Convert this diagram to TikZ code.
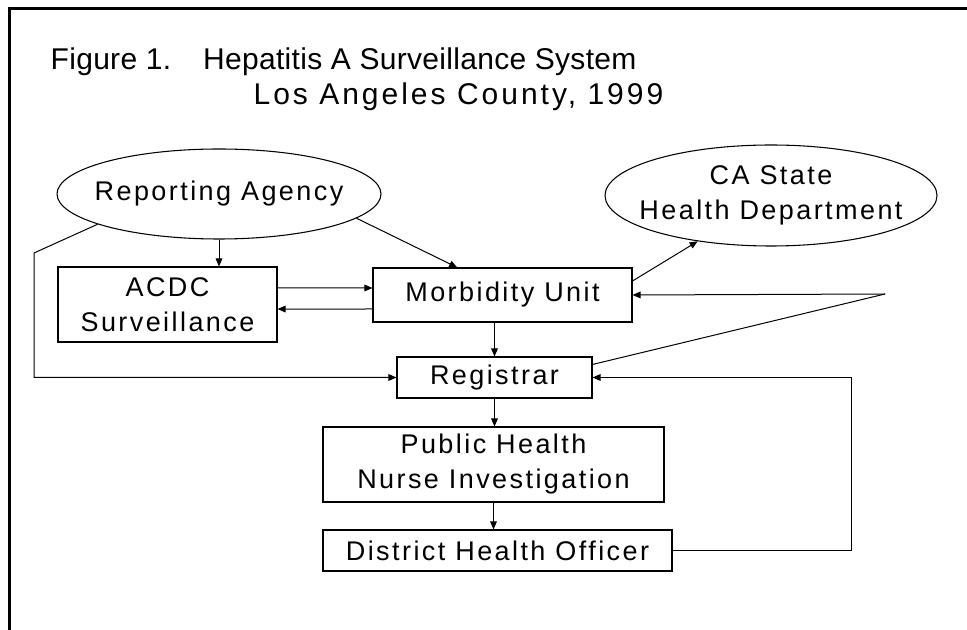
\documentclass[tikz,border=0pt]{standalone}
\usepackage{fontspec}
\setmainfont{Liberation Sans}[LetterSpace=9]
\newfontfamily\titlefam{Liberation Sans}[LetterSpace=1]
\newfontfamily\placefam{Liberation Sans}[LetterSpace=10]
\usetikzlibrary{shapes.geometric,arrows.meta}

\newcommand\boxfont{\fontsize{20.25}{26.25}\selectfont}
\newcommand\headfont{\titlefam\fontsize{22.5}{27}\selectfont}
\newcommand\placefont{\placefam\fontsize{22.5}{27}\selectfont}

\begin{document}
\begin{tikzpicture}[x=0.75pt,y=-0.75pt,
    box/.style={draw,rectangle,line width=0.8pt,inner sep=0pt,align=center,font=\boxfont},
    oval/.style={draw,ellipse,line width=0.8pt,inner sep=-20pt,align=center,font=\boxfont},
    link/.style={line width=0.75pt,-{Triangle[length=6pt,width=5pt]}}]

    \useasboundingbox (0,0) rectangle (967,630);

    % Drawing the frame
    \draw[line width=2.25pt] (9.5,630) -- (9.5,8.5) -- (967,8.5);

    % Title
    \node[anchor=west,font=\headfont] (title) at (46,62) {Figure 1.\hspace{24pt}Hepatitis A Surveillance System};
    \node[anchor=east,font=\placefont] (place) at (668,97) {Los Angeles County, 1999};

    % Agencies
    \node[oval,minimum width=243pt,minimum height=67.5pt] (rep) at (219,194) {Reporting Agency};
    \node[oval,minimum width=249pt,minimum height=75.75pt] (state) at (771,195.5) {CA State\\Health Department};

    % Units
    \node[box,minimum width=164.25pt,minimum height=56.25pt] (acdc) at (167.5,304.5) {ACDC\\Surveillance};
    \node[box,minimum width=194.25pt,minimum height=40.5pt] (morb) at (502.5,295) {Morbidity Unit};
    \node[box,minimum width=146.25pt,minimum height=30.75pt] (reg) at (494.5,377.5) {Registrar};
    \node[box,minimum width=255.75pt,minimum height=56.25pt] (nurse) at (493.5,464.5) {Public Health\\Nurse Investigation};
    \node[box,minimum width=261.75pt,minimum height=30.75pt] (dho) at (497.5,550.5) {District Health Officer};

    % Free ends of the connectors
    \coordinate (bend) at (34,253);
    \coordinate (ext) at (885,294);
    \coordinate (back) at (851,0);

    % Reports coming in
    \draw[link] (rep.south) -- (rep.south |- acdc.north);
    \draw[link] (rep.-10) -- ([xshift=-34pt]morb.north);
    \draw[link] (rep.194) -- (bend) |- (reg.west);

    % Between ACDC and Morbidity Unit
    \draw[link] ([yshift=12.4pt]acdc.east) -- ([yshift=5.25pt]morb.west);
    \draw[link] ([yshift=-10.5pt]morb.west) -- ([yshift=-3.4pt]acdc.east);

    % To the state and from outside
    \draw[link] ([yshift=10.5pt]morb.east) -- (state.212);
    \draw[link] (ext) -- (morb.east);
    \draw[line width=0.75pt] (ext) -- ([yshift=-6pt]reg.north east);

    % Down the chain
    \draw[link] (reg.north |- morb.south) -- (reg.north);
    \draw[link] (reg.south) -- (reg.south |- nurse.north);
    \draw[link] (nurse.south) -- (nurse.south |- dho.north);
    \draw[link] (dho.east) -| (back |- reg.east) -- (reg.east);
\end{tikzpicture}
\end{document}
